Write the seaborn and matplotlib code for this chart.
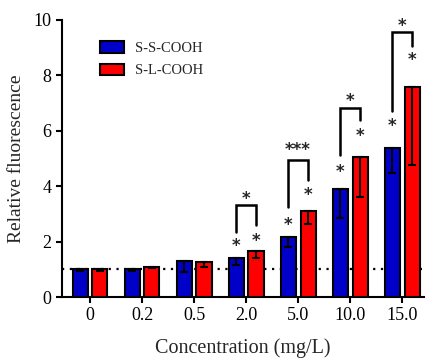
import numpy as np
import pandas as pd
import matplotlib as mpl
mpl.use('Agg')
import matplotlib.pyplot as plt
import seaborn as sns

# values
concs = ['0', '0.2', '0.5', '2.0', '5.0', '10.0', '15.0']
ss_mean = [1.0, 1.0, 1.3, 1.42, 2.18, 3.89, 5.37]
sl_mean = [1.0, 1.1, 1.27, 1.67, 3.12, 5.07, 7.57]
ss_err = [0.05, 0.05, 0.4, 0.27, 0.36, 1.04, 0.9]
sl_err = [0.05, 0.05, 0.2, 0.25, 0.5, 1.45, 2.8]

# significance marks: (group index, bracket top, left leg bottom, right leg bottom,
# label, label centre, star over blue, star over red)
sig = [
    (3, 3.32, 2.36, 2.60, '*', 3.72, 2.00, 2.20),
    (4, 4.95, 3.26, 4.22, '***', 5.46, 2.78, 3.86),
    (5, 6.81, 5.13, 6.39, '*', 7.23, 4.68, 5.99),
    (6, 9.55, 6.71, 9.07, '*', 9.94, 6.33, 8.74),
]

df = pd.DataFrame({
    'conc': concs * 2,
    'value': ss_mean + sl_mean,
    'group': ['S-S-COOH'] * len(concs) + ['S-L-COOH'] * len(concs),
})

sns.set_style('ticks')
plt.rcParams['font.family'] = ['Liberation Serif', 'DejaVu Serif']

fig = plt.figure(figsize=(4.26, 3.63), dpi=100)
ax = fig.add_axes([62/426, 1-297/363, 362/426, 277/363])

palette = {'S-S-COOH': '#0000c8', 'S-L-COOH': '#ff0000'}
sns.barplot(data=df, x='conc', y='value', hue='group', palette=palette,
            width=0.76, gap=0.24, edgecolor='black', linewidth=1.5,
            saturation=1, errorbar=None, ax=ax, zorder=3)

# error bars drawn downward only
for cont, err in zip(ax.containers, [ss_err, sl_err]):
    for bar, e in zip(cont, err):
        xc = bar.get_x() + bar.get_width()/2
        h = bar.get_height()
        ax.errorbar(xc, h, yerr=[[e], [0]], color='black', lw=1.5,
                    capsize=3, capthick=1.5, zorder=4)

ax.axhline(1, color='black', ls=(0, (1, 2.5)), lw=1.6, zorder=1)

# brackets and stars
star = dict(ha='center', va='baseline', fontsize=12, fontweight='bold',
            family='DejaVu Sans', zorder=6)
off = 0.35  # glyph centre sits this far above the baseline
blue_x = [b.get_x() + b.get_width()/2 for b in ax.containers[0]]
red_x = [b.get_x() + b.get_width()/2 for b in ax.containers[1]]
for i, top, lb, rb, lab, yc, sb, sr in sig:
    xl, xr = blue_x[i], red_x[i]
    ax.plot([xl, xl, xr, xr], [lb, top, top, rb], color='black', lw=1.8,
            solid_joinstyle='miter', zorder=5)
    ax.text((xl+xr)/2, yc - off, lab, **star)
    ax.text(xl, sb - off, '*', **star)
    ax.text(xr, sr - off, '*', **star)

ax.set_ylim(0, 10)
ax.set_xlim(-0.54, 6.42)
ax.set_yticks([0, 2, 4, 6, 8, 10])
ax.set_xlabel('Concentration (mg/L)', fontsize=14.5, labelpad=10)
ax.set_ylabel('Relative fluorescence', fontsize=14, labelpad=6)
ax.tick_params(labelsize=13, width=1.5, length=4, colors='black')
for s in ['left', 'bottom']:
    ax.spines[s].set_linewidth(1.5)
    ax.spines[s].set_color('black')
sns.despine(ax=ax)

ax.legend(loc='upper left', bbox_to_anchor=(0.07, 0.97), frameon=False,
          fontsize=10.5, handlelength=1.6, handleheight=0.8, labelspacing=0.6)

fig.savefig('out.png', dpi=100)
